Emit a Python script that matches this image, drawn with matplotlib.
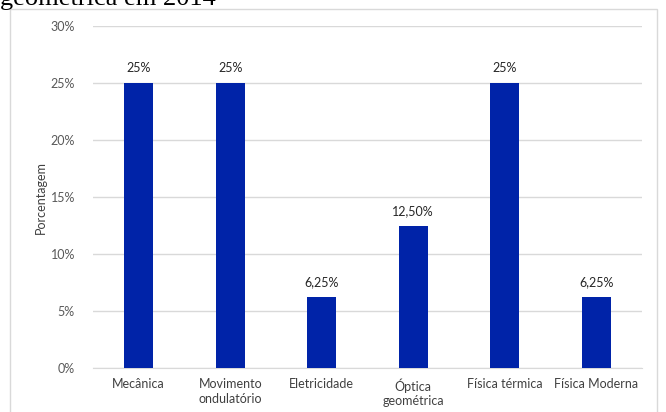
import matplotlib
matplotlib.use("Agg")
import matplotlib.pyplot as plt
from matplotlib.patches import Rectangle
from matplotlib.ticker import FuncFormatter

# data
categorias = ["Mecânica", "Movimento\nondulatório", "Eletricidade",
              "Óptica\ngeométrica", "Física térmica", "Física Moderna"]
valores = [25, 25, 6.25, 12.5, 25, 6.25]
rotulos = ["25%", "25%", "6,25%", "12,50%", "25%", "6,25%"]
y_ticks = [0, 5, 10, 15, 20, 25, 30]

plt.rcParams['font.family'] = ['Lato', 'DejaVu Sans']

fig = plt.figure(figsize=(6.66, 4.12), dpi=100)
ax = fig.add_axes([0.1396, 0.106, 0.8244, 0.8316])

# outer chart frame (excel style), bottom runs past the image
fig.patches.append(Rectangle((10.5 / 666, -0.05), 646.5 / 666, 1.05 - 8.5 / 412,
                             transform=fig.transFigure, fill=False,
                             edgecolor="#D9D9D9", linewidth=1))

# caption of the page, cut by the top edge as in the source screenshot
fig.text(0.0, 1 - 5 / 412, "geométrica em 2014", family="Liberation Serif",
         fontsize=19, color="black", ha="left", va="baseline")

x = range(len(categorias))
bars = ax.bar(x, valores, width=0.32, color="#0023A8", zorder=3)

for b, lab in zip(bars, rotulos):
    ax.annotate(lab, (b.get_x() + b.get_width() / 2, b.get_height()),
                xytext=(0, 6), textcoords="offset points",
                ha="center", va="bottom", fontsize=9, color="#262626")

ax.set_xlim(-0.5, len(categorias) - 0.5)
ax.set_ylim(0, 30)
ax.set_yticks(y_ticks)
ax.yaxis.set_major_formatter(FuncFormatter(lambda v, p: f"{v:.0f}%"))
ax.set_xticks(list(x))
ax.set_xticklabels(categorias, fontsize=9, color="#404040", linespacing=1.25)
ax.tick_params(axis="y", labelsize=9, labelcolor="#595959", length=0, pad=13)
ax.tick_params(axis="x", length=0, pad=7)

ax.grid(axis="y", color="#D9D9D9", linewidth=1, zorder=0)
for s in ["top", "right", "left"]:
    ax.spines[s].set_visible(False)
ax.spines["bottom"].set_color("#D9D9D9")

ax.set_ylabel("Porcentagem", fontsize=9, color="#404040", labelpad=3)

fig.savefig("out.png", dpi=100)
